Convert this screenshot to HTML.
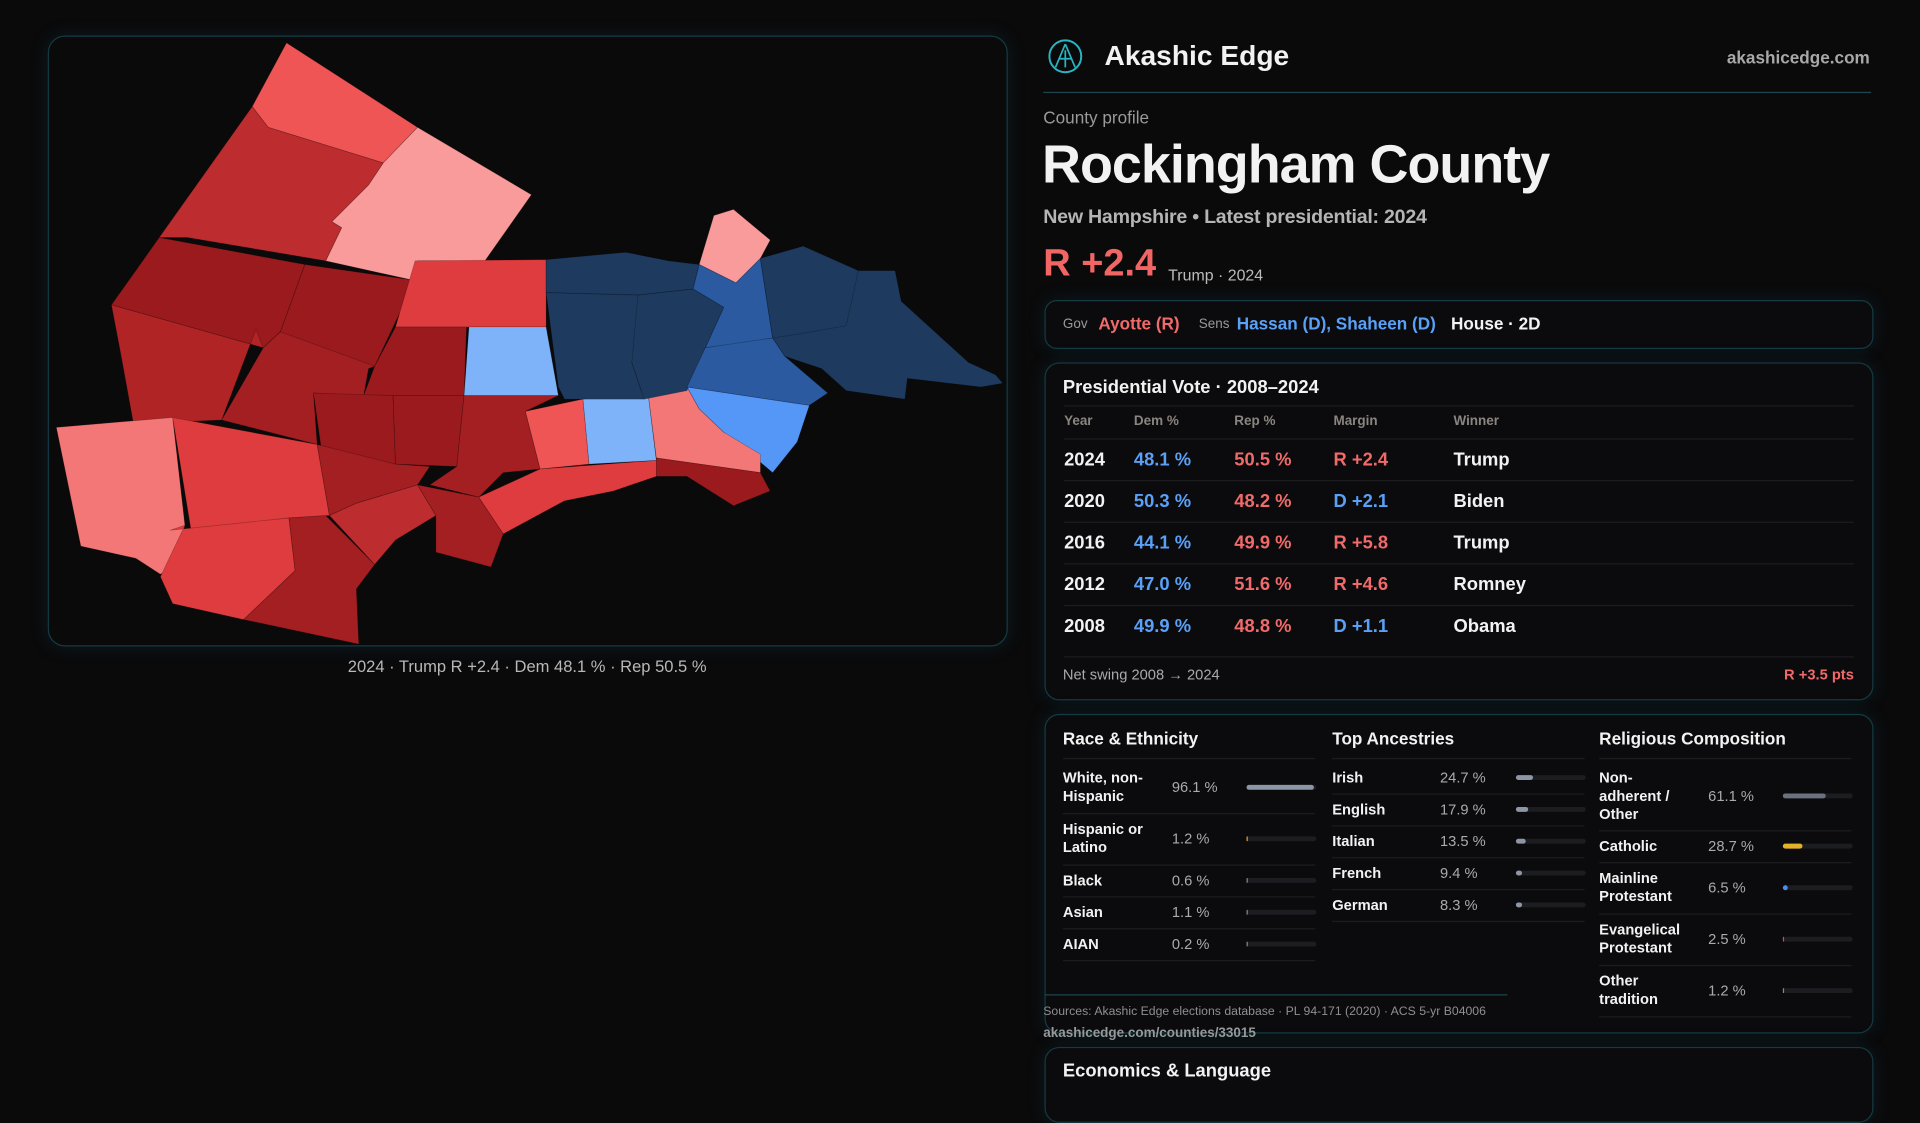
<!DOCTYPE html>
<html><head><meta charset="utf-8">
<style>
html,body{margin:0;padding:0;background:#0a0a0b;overflow:hidden}
body{width:1920px;height:1080px;font-family:"Liberation Sans",sans-serif;color:#f2f2f2}
#stage{position:absolute;left:0;top:0;width:1568px;height:882px;transform:scale(1.22449);transform-origin:0 0;background:#0a0a0b}
.abs{position:absolute;white-space:nowrap}
.card{position:absolute;border:1px solid #143a44;border-radius:12px;background:#0b0b0d;box-shadow:0 0 14px rgba(20,80,95,.25)}
.gray{color:#9a9a9a}
.red{color:#f06a6a}.blue{color:#5aa0f7}
.row{position:absolute;left:15px;right:15px;height:34px;border-top:1px solid #1d1d20;font-size:15px;font-weight:bold}
.row span{position:absolute;top:8px}
.dcol{position:absolute;top:0}
.drow{position:absolute;left:0;right:0;border-bottom:1px solid #1d1d20;font-size:12px;font-weight:bold}
.drow .lab{position:absolute;left:0;line-height:15px}
.drow .val{position:absolute;color:#aaa;font-weight:normal}
.track{position:absolute;height:4px;border-radius:2px;background:#1c1d21}
.fill{position:absolute;left:0;top:0;height:4px;border-radius:2px}
</style></head><body>
<div id="stage">
  <div class="card" style="left:39px;top:29px;width:782px;height:497px;border-radius:14px;background:#0b0a0b">
    <svg id="map" width="782" height="497" viewBox="39 29 782 497" style="position:absolute;left:0;top:0"></svg>
  </div>
  <div class="abs gray" style="left:284px;top:537px;font-size:13.5px;color:#b8b8b8">2024 · Trump R +2.4 · Dem 48.1 % · Rep 50.5 %</div>

  <svg class="abs" style="left:855px;top:31px" width="30" height="30">
    <circle cx="15" cy="15" r="13" fill="none" stroke="#2bb5c0" stroke-width="1.6"/>
    <path d="M15 5 L7 24 M15 5 L23 24 M10 17 L20 17 M15 10 L15 24" stroke="#2bb5c0" stroke-width="1.4" fill="none"/>
  </svg>
  <div class="abs" style="left:902px;top:32px;font-size:23px;font-weight:bold">Akashic Edge</div>
  <div class="abs" style="right:41px;top:39px;font-size:14px;font-weight:bold;color:#a8a8a8">akashicedge.com</div>
  <div class="abs" style="left:852px;top:75px;width:676px;height:1px;background:#1d4650"></div>
  <div class="abs gray" style="left:852px;top:88px;font-size:14px">County profile</div>
  <div class="abs" style="left:851px;top:110px;font-size:44px;font-weight:bold;letter-spacing:-0.8px">Rockingham County</div>
  <div class="abs" style="left:852px;top:169px;font-size:16px;font-weight:bold;color:#b5b5b5;letter-spacing:-0.2px">New Hampshire • Latest presidential: 2024</div>
  <div class="abs red" style="left:852px;top:197px;font-size:31px;font-weight:bold;color:#f26565">R +2.4</div>
  <div class="abs" style="left:954px;top:217px;font-size:13px;color:#bbb">Trump · 2024</div>

  <div class="card" style="left:853px;top:245px;width:675px;height:38px;border-radius:10px">
    <span class="abs gray" style="left:14px;top:13px;font-size:11px">Gov</span>
    <span class="abs red" style="left:43px;top:10px;font-size:14px;font-weight:bold">Ayotte (R)</span>
    <span class="abs gray" style="left:125px;top:13px;font-size:11px">Sens</span>
    <span class="abs blue" style="left:156px;top:10px;font-size:14px;font-weight:bold">Hassan (D), Shaheen (D)</span>
    <span class="abs" style="left:331px;top:10px;font-size:14px;font-weight:bold">House · 2D</span>
  </div>

  <div class="card" id="votecard" style="left:853px;top:296px;width:675px;height:274px">
    <div class="abs" style="left:14px;top:11px;font-size:15px;font-weight:bold">Presidential Vote · 2008–2024</div>
    <div class="abs" style="left:15px;right:15px;top:34px;height:1px;background:#1d1d20"></div>
    <div class="abs gray" style="left:15px;top:41px;font-size:11px;font-weight:bold;color:#8a8580">
      <span class="abs" style="left:0">Year</span><span class="abs" style="left:57px">Dem %</span><span class="abs" style="left:139px">Rep %</span><span class="abs" style="left:220px">Margin</span><span class="abs" style="left:318px">Winner</span>
    </div>
    <div id="rows"></div>
    <div class="abs" style="left:15px;right:15px;top:239px;height:1px;background:#1d1d20"></div>
    <div class="abs" style="left:14px;top:247px;font-size:12px;color:#aaa">Net swing 2008 → 2024</div>
    <div class="abs red" style="right:15px;top:247px;font-size:12px;font-weight:bold">R +3.5 pts</div>
  </div>

  <div class="card" id="democard" style="left:853px;top:583px;width:675px;height:259px"></div>
  <div class="abs" style="left:853px;top:812px;width:378px;height:1px;background:#1d4650"></div>
  <div class="abs" style="left:852px;top:821px;font-size:10px;color:#8f8f8f">Sources: Akashic Edge elections database · PL 94-171 (2020) · ACS 5-yr B04006</div>
  <div class="abs" style="left:852px;top:838px;font-size:11px;font-weight:bold;color:#9a9a9a">akashicedge.com/counties/33015</div>
  <div class="card" style="left:853px;top:855px;width:675px;height:60px">
    <div class="abs" style="left:14px;top:10px;font-size:15px;font-weight:bold">Economics &amp; Language</div>
  </div>
</div>
<script>
// ---- Presidential table data ----
const years=["2024","2020","2016","2012","2008"];
const demPct=[48.1,50.3,44.1,47.0,49.9];
const repPct=[50.5,48.2,49.9,51.6,48.8];
const winners=["Trump","Biden","Trump","Romney","Obama"];
const rowsEl=document.getElementById('rows');
years.forEach((y,i)=>{
  const r=document.createElement('div');r.className='row';r.style.top=(61+i*34)+'px';
  
  
  const m=repPct[i]-demPct[i];const mt=(m>=0?'R +':'D +')+Math.abs(m).toFixed(1);
  r.innerHTML=`<span style="left:0">${y}</span><span class="blue" style="left:57px">${demPct[i].toFixed(1)} %</span><span class="red" style="left:139px">${repPct[i].toFixed(1)} %</span><span class="${m>=0?'red':'blue'}" style="left:220px">${mt}</span><span style="left:318px">${winners[i]}</span>`;
  rowsEl.appendChild(r);
});
// ---- Demographics data ----
const raceLabels=["White, non-<br>Hispanic","Hispanic or<br>Latino","Black","Asian","AIAN"];
const raceValues=[96.1,1.2,0.6,1.1,0.2];
const ancLabels=["Irish","English","Italian","French","German"];
const ancValues=[24.7,17.9,13.5,9.4,8.3];
const relLabels=["Non-<br>adherent /<br>Other","Catholic","Mainline<br>Protestant","Evangelical<br>Protestant","Other<br>tradition"];
const relValues=[61.1,28.7,6.5,2.5,1.2];
const relColors=["#6b7180","#e3b22a","#4a8cf0","#e04545","#888"];
const card=document.getElementById('democard');
function col(title,x,labels,values,heights,colors,valX,barX,barW,name){
  const c=document.createElement('div');c.className='dcol';c.style.left=x+'px';c.style.width='206px';c.style.height='250px';
  
  
  c.innerHTML=`<div class="abs" style="left:0;top:11px;font-size:14px;font-weight:bold">${title}</div><div class="abs" style="left:0;right:0;top:35px;height:1px;background:#1d1d20"></div>`;
  let y=38;
  labels.forEach((l,i)=>{
    const h=heights[i];const d=document.createElement('div');d.className='drow';d.style.top=y+'px';d.style.height=h+'px';
    
    
    const lines=(l.match(/<br>/g)||[]).length+1;const ty=(h-lines*15)/2;
    const w=Math.max(1,values[i]/100*barW);
    d.innerHTML=`<div class="lab" style="top:${ty}px">${l}</div><div class="val" style="left:${valX}px;top:${h/2-7}px">${values[i].toFixed(1)} %</div><div class="track" style="left:${barX}px;width:${barW}px;top:${h/2-2}px"><div class="fill" style="width:${w}px;background:${colors[i]}"></div></div>`;
    c.appendChild(d);y+=h;
  });
  card.appendChild(c);
}
col("Race &amp; Ethnicity",14,raceLabels,raceValues,[42,42,26,26,26],["#8d96a6","#e3a02a","#888","#888","#888"],89,150,57,"race-ethnicity-panel");
col("Top Ancestries",234,ancLabels,ancValues,[26,26,26,26,26],["#8d96a6","#8d96a6","#8d96a6","#8d96a6","#8d96a6"],88,150,57,"ancestry-panel");
col("Religious Composition",452,relLabels,relValues,[56,26,42,42,42],relColors,89,150,57,"religion-panel");

// ---- Map data ----
const townIds=["t01","t02","t03","t04","t05","t06","t07","t08","t09","t10","t11","t12","t13","t14","t15","t16","t17","t18","t19","t20","t21","t22","t23","t24","t25","t26","t27","t28","t29","t30","t31","t32","t33","t34"];
const townMargins=[3,0.8,10,25,24,7,13,18,23,-2,-2,-5,1.5,0.8,1.3,25,7,7,3,22,22,18,16,18,10,16,7,-18,-18,-10,-18,-10,-18,-18];
const townShapes=[
"233,34 340,103 312,132 218,103 205,86",
"340,103 433,158 395,212 340,212 337,228 265,212 278,185 270,180 290,160 300,150 312,132",
"205,86 218,103 312,132 300,150 290,160 270,180 278,185 265,212 152,193 129,193",
"129,193 248,215 228,270 214,283 90,248",
"248,215 338,228 305,298 300,300 214,283 228,270",
"338,212 445,211 445,266 322,266",
"90,248 214,283 208,268 180,342 108,345 98,290",
"214,283 228,270 305,298 300,300 296,322 255,320 258,362 180,342",
"322,266 380,266 378,322 296,322 305,298",
"382,266 445,266 455,322 378,322",
"475,325 528,318 535,375 480,378",
"560,315 660,330 650,360 630,385 610,368 590,352 570,333",
"528,318 560,315 570,333 590,352 620,370 620,385 535,373",
"582,175 598,170 628,195 620,210 600,230 570,215",
"45,348 140,340 150,428 140,462 130,468 110,455 65,445",
"535,373 620,385 628,400 598,412 560,388 535,388",
"140,340 258,362 268,420 235,422 155,432",
"138,432 235,422 240,465 198,505 140,492 130,470 150,428",
"428,335 475,325 480,378 440,382",
"255,320 320,322 322,378 262,370",
"320,322 378,322 372,380 322,378",
"235,422 265,420 305,460 290,480 292,525 198,505 240,465",
"378,322 455,322 428,335 440,382 410,385 390,405 350,395 372,380",
"258,362 322,378 350,380 340,395 290,410 268,420",
"268,420 290,410 340,395 355,420 322,440 305,460",
"340,395 390,405 410,435 400,462 355,450 355,420",
"390,405 440,382 535,375 535,388 500,400 460,408 410,435",
"445,211 510,205 545,212 570,215 565,235 520,240 445,238",
"445,238 520,240 540,250 515,295 525,325 460,325 455,315",
"570,215 600,230 620,210 630,275 600,280 575,283 590,250 565,235",
"520,240 565,235 590,250 575,283 560,318 525,325 515,295",
"575,283 630,275 640,290 675,320 660,330 560,315",
"620,210 655,200 700,220 730,220 735,245 790,295 812,305 818,312 800,315 740,308 738,325 690,318 670,300 640,290 630,275",
"655,200 700,220 690,265 650,272 630,275 620,210"
];
function colorFor(m){
  if(m>=20)return"#9a1a1d";if(m>=15)return"#a31f22";if(m>=12)return"#b02426";if(m>=9)return"#bd2c2e";
  if(m>=5)return"#de3c3e";if(m>=2.5)return"#f05555";if(m>=1.2)return"#f47777";if(m>0)return"#f99b9b";
  if(m>-3)return"#7fb3f9";if(m>-7)return"#5597f7";if(m>-12)return"#2b5aa0";return"#1e3a5f";
}
const svg=document.getElementById('map');
townShapes.forEach((s,i)=>{
  const p=document.createElementNS('http://www.w3.org/2000/svg','polygon');
  p.setAttribute('points',s);p.setAttribute('fill',colorFor(townMargins[i]));
  p.setAttribute('stroke','rgba(0,0,0,0.25)');p.setAttribute('stroke-width','0.6');
  
  
  svg.appendChild(p);
});
</script>
</body></html>
